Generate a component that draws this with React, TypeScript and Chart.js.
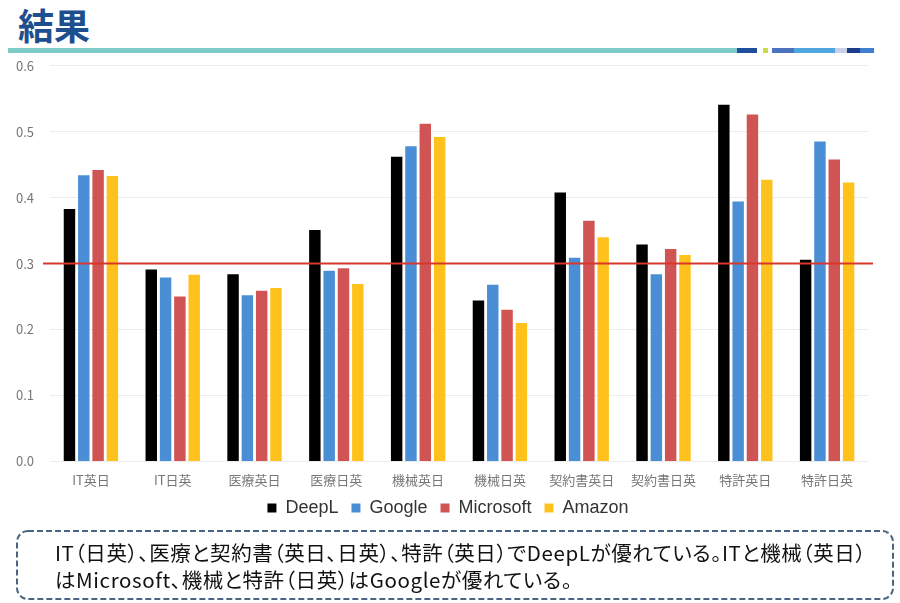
import React, { useEffect, useRef } from "react";
import { Chart, registerables } from "chart.js";
import type { Plugin } from "chart.js";

Chart.register(...registerables);

const categories = ["IT英日", "IT日英", "医療英日", "医療日英", "機械英日", "機械日英", "契約書英日", "契約書日英", "特許英日", "特許日英"];
const deepl = [0.383, 0.291, 0.284, 0.351, 0.462, 0.244, 0.408, 0.329, 0.541, 0.306];
const google = [0.434, 0.279, 0.252, 0.289, 0.478, 0.268, 0.309, 0.284, 0.394, 0.485];
const microsoft = [0.442, 0.25, 0.259, 0.293, 0.512, 0.23, 0.365, 0.322, 0.526, 0.458];
const amazon = [0.433, 0.283, 0.263, 0.269, 0.492, 0.21, 0.34, 0.313, 0.427, 0.423];
const threshold = 0.3;

const headerBlocks = [
  { w: 20, c: "#1f4f9c" },
  { w: 6, c: "#ffffff" },
  { w: 5, c: "#c9d94a" },
  { w: 4, c: "#ffffff" },
  { w: 22, c: "#4b73c0" },
  { w: 41, c: "#4fa6de" },
  { w: 12, c: "#c8cfe6" },
  { w: 13, c: "#1c3c8c" },
  { w: 14, c: "#3d7fd0" },
];

const thresholdLine: Plugin<"bar"> = {
  id: "thresholdLine",
  afterDatasetsDraw(chart) {
    const { ctx, chartArea, scales } = chart;
    const y = scales.y.getPixelForValue(threshold);
    ctx.save();
    ctx.strokeStyle = "#d8372c";
    ctx.lineWidth = 2;
    ctx.beginPath();
    ctx.moveTo(chartArea.left - 7, y);
    ctx.lineTo(chartArea.right + 5, y);
    ctx.stroke();
    ctx.restore();
  },
};

// legend sits centred on the page, not on the (right-padded) chart box
const legendShift: Plugin<"bar"> = {
  id: "legendShift",
  afterLayout(chart) {
    if (chart.legend) {
      chart.legend.left += 14;
      chart.legend.right += 14;
    }
  },
};

const BarChart: React.FC = () => {
  const canvasRef = useRef<HTMLCanvasElement | null>(null);
  const chartRef = useRef<Chart | null>(null);

  useEffect(() => {
    document.body.style.margin = "0";
    if (!canvasRef.current) return;
    if (chartRef.current) chartRef.current.destroy();
    const ctx = canvasRef.current.getContext("2d");
    if (!ctx) return;

    const mk = (label: string, data: number[], color: string) => ({
      label,
      data,
      backgroundColor: color,
      borderWidth: 0,
      barPercentage: 0.8,
      categoryPercentage: 0.7,
    });

    chartRef.current = new Chart(ctx, {
      type: "bar",
      data: {
        labels: categories,
        datasets: [
          mk("DeepL", deepl, "#000000"),
          mk("Google", google, "#4a8fd6"),
          mk("Microsoft", microsoft, "#d15454"),
          mk("Amazon", amazon, "#ffc21d"),
        ],
      },
      options: {
        animation: false,
        responsive: true,
        maintainAspectRatio: false,
        layout: { padding: { left: 0, right: 32, top: 3, bottom: 4 } },
        plugins: {
          tooltip: { enabled: false },
          legend: {
            position: "bottom",
            labels: {
              boxWidth: 9,
              boxHeight: 9,
              padding: 8,
              color: "#333333",
              font: { family: "'Liberation Sans', Arial, sans-serif", size: 18 },
              // a trailing space widens the gap between items without adding height
              generateLabels: (chart) => {
                const items = Chart.defaults.plugins.legend.labels.generateLabels(chart);
                return items.map((it, i) => ({ ...it, text: i < items.length - 1 ? it.text + " " : it.text }));
              },
            },
          },
        },
        scales: {
          x: {
            grid: { display: false },
            border: { display: false },
            ticks: {
              color: "#777777",
              padding: 3,
              font: { family: "'Noto Sans CJK JP', sans-serif", size: 13 },
            },
          },
          y: {
            min: 0,
            max: 0.6,
            border: { display: false },
            grid: { color: "#ececec", drawTicks: false },
            ticks: {
              stepSize: 0.1,
              padding: 16,
              color: "#777777",
              font: { family: "'Noto Sans CJK JP', sans-serif", size: 13 },
              callback: (v) => Number(v).toFixed(1),
            },
          },
        },
      },
      plugins: [thresholdLine, legendShift],
    });

    return () => {
      if (chartRef.current) {
        chartRef.current.destroy();
        chartRef.current = null;
      }
    };
  }, []);

  return (
    <div style={{ position: "absolute", left: 0, top: 42, width: 900, height: 489 }}>
      <canvas ref={canvasRef}></canvas>
    </div>
  );
};

export default function App() {
  return (
    <div style={{ position: "relative", width: 900, height: 603, background: "#ffffff", overflow: "hidden", fontFamily: "'Noto Sans CJK JP', sans-serif" }}>
      <div style={{ position: "absolute", left: 18, top: -2, fontSize: 36, fontWeight: 700, color: "#1d4f8f", lineHeight: "52px" }}>結果</div>
      <div style={{ position: "absolute", left: 8, top: 48, width: 729, height: 5, background: "#7ecbc7" }} />
      <div style={{ position: "absolute", left: 737, top: 48, height: 5, display: "flex" }}>
        {headerBlocks.map((b, i) => (
          <div key={i} style={{ width: b.w, height: 5, background: b.c }} />
        ))}
      </div>
      <BarChart />
      <svg style={{ position: "absolute", left: 0, top: 0 }} width={900} height={603}>
        <rect x={17} y={531} width={876} height={68} rx={11} ry={11} fill="none" stroke="#4a6483" strokeWidth={2} strokeDasharray="6 3" />
      </svg>
      <div
        style={{
          position: "absolute",
          left: 55,
          top: 539,
          fontSize: 20.5,
          lineHeight: "27px",
          letterSpacing: "0.6px",
          color: "#111111",
          fontFeatureSettings: '"palt"',
          whiteSpace: "nowrap",
        }}
      >
        IT（日英）、医療と契約書（英日、日英）、特許（英日）でDeepLが優れている。ITと機械（英日）
        <br />
        はMicrosoft、機械と特許（日英）はGoogleが優れている。
      </div>
    </div>
  );
}
